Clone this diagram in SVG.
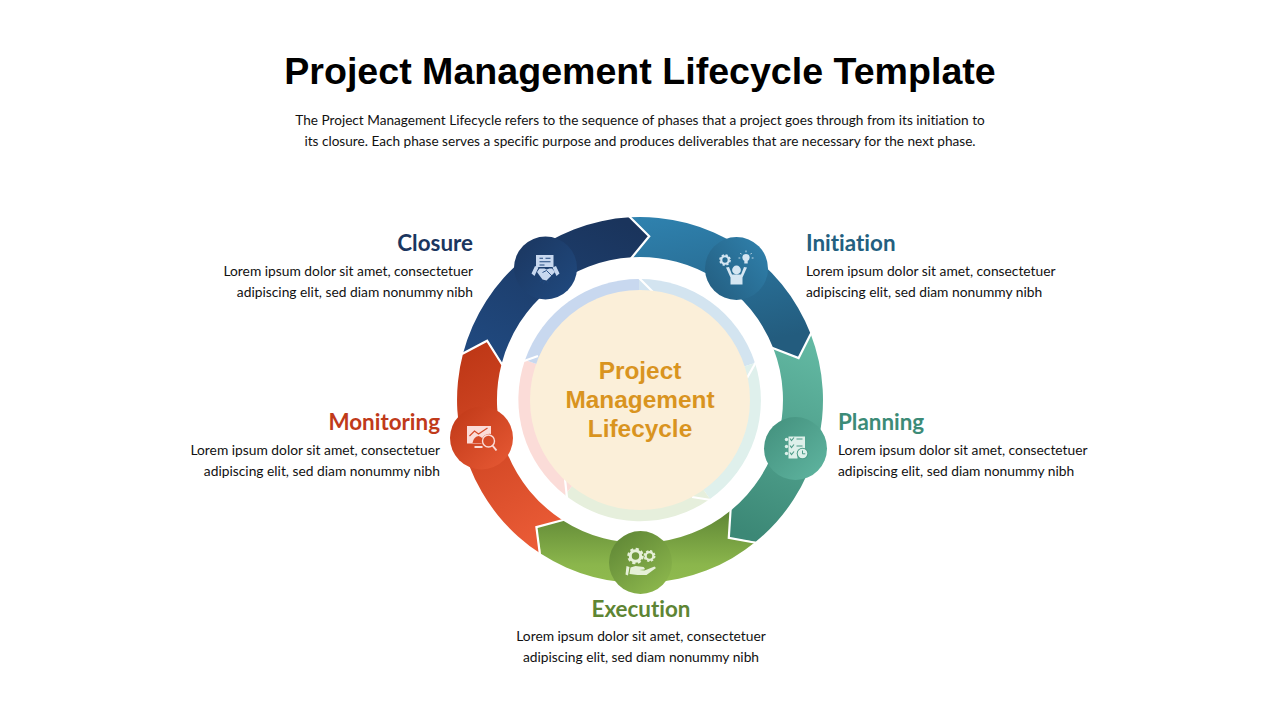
<svg xmlns="http://www.w3.org/2000/svg" width="1280" height="720" viewBox="0 0 1280 720">
<style>
.title{font:bold 37.6px "Liberation Sans",Arial,sans-serif;fill:#000;text-anchor:middle}
.sub{font:13.62px Lato,"Open Sans",sans-serif;fill:#111;text-anchor:middle;font-variant-ligatures:none}
.h{font:bold 22.4px Lato,"Open Sans",sans-serif;font-variant-ligatures:none}
.b{font:13.8px Lato,"Open Sans",sans-serif;fill:#111;font-variant-ligatures:none}
.c{font:bold 24.4px "Liberation Sans",Arial,sans-serif;fill:#D9941F;text-anchor:middle}
.e{text-anchor:end}.m{text-anchor:middle}
.gap{fill:none;stroke:#fff;stroke-width:2.2;stroke-linejoin:miter}
.sep{fill:none;stroke:#fff;stroke-width:2.2}
</style>
<defs>
<linearGradient id="gI" x1="0" y1="0" x2="0.25" y2="1"><stop offset="0" stop-color="#2F82AF"/><stop offset="1" stop-color="#235C7E"/></linearGradient>
<linearGradient id="gP" x1="0.6" y1="0" x2="0.4" y2="1"><stop offset="0" stop-color="#62B8A2"/><stop offset="1" stop-color="#3C8876"/></linearGradient>
<linearGradient id="gE" x1="0" y1="0" x2="0" y2="1"><stop offset="0" stop-color="#5F8635"/><stop offset="0.75" stop-color="#8BB64C"/><stop offset="1" stop-color="#8FBA4E"/></linearGradient>
<linearGradient id="gM" x1="0.3" y1="0" x2="0.6" y2="1"><stop offset="0" stop-color="#BF3817"/><stop offset="1" stop-color="#EA5B36"/></linearGradient>
<linearGradient id="gC" x1="0.8" y1="0" x2="0.2" y2="1"><stop offset="0" stop-color="#1A345C"/><stop offset="1" stop-color="#20497F"/></linearGradient>
<linearGradient id="cI" x1="0" y1="1" x2="1" y2="0.2"><stop offset="0" stop-color="#235C7E"/><stop offset="1" stop-color="#2F7FAA"/></linearGradient>
<linearGradient id="cP" x1="0" y1="0" x2="1" y2="1"><stop offset="0" stop-color="#428F7C"/><stop offset="1" stop-color="#60B6A1"/></linearGradient>
<linearGradient id="cE" x1="0.1" y1="0" x2="0.8" y2="1"><stop offset="0" stop-color="#5E8535"/><stop offset="1" stop-color="#8DB84D"/></linearGradient>
<linearGradient id="cM" x1="0" y1="0" x2="1" y2="1"><stop offset="0" stop-color="#BF3817"/><stop offset="1" stop-color="#E85A35"/></linearGradient>
<linearGradient id="cC" x1="0" y1="0" x2="1" y2="1"><stop offset="0" stop-color="#1B365F"/><stop offset="1" stop-color="#204A80"/></linearGradient>
<g id="gear"><circle r="0.85" fill="none" stroke="currentColor" stroke-width="0.5"/><circle r="1.16" fill="none" stroke="currentColor" stroke-width="0.34" stroke-dasharray="0.52 0.39"/></g>
</defs>

<text class="title" x="640" y="84">Project Management Lifecycle Template</text>
<text class="sub" x="640" y="125">The Project Management Lifecycle refers to the sequence of phases that a project goes through from its initiation to</text>
<text class="sub" x="640" y="146">its closure. Each phase serves a specific purpose and produces deliverables that are necessary for the next phase.</text>

<g id="hub">
<path fill="#D3E4F0" d="M640 400L639 279A121 121 0 0 1 755 363Z"/>
<path fill="#DFF0EC" d="M640 400L755 363A121 121 0 0 1 710 499Z"/>
<path fill="#E6EFDC" d="M640 400L710 499A121 121 0 0 1 565 495Z"/>
<path fill="#FBDCD8" d="M640 400L565 495A121 121 0 0 1 525 360Z"/>
<path fill="#C8D8EF" d="M640 400L525 360A121 121 0 0 1 639 279Z"/>
<path class="sep" d="M639 278L653 292M756 362L747 378M692 497L711 500M565 479L567 498M524 361L538 356"/>
<circle cx="640" cy="400" r="110" fill="#FBEFD9"/>
<text class="c" x="640" y="379">Project</text>
<text class="c" x="640" y="408">Management</text>
<text class="c" x="640" y="437">Lifecycle</text>
</g>

<g id="connectors">
<path fill="url(#gM)" d="M540.9 553.8A183 183 0 0 1 463.1 353.3L487.1 340.7L501.7 363.5A143 143 0 0 0 562.5 520.2L536.4 527.1Z"/>
<path fill="url(#gC)" d="M463.1 353.3A183 183 0 0 1 629.8 217.3L649.2 236.3L632 257.2A143 143 0 0 0 501.7 363.5L487.1 340.7Z"/>
<path fill="url(#gI)" d="M629.8 217.3A183 183 0 0 1 810.6 333.8L798.6 358.1L773.3 348.3A143 143 0 0 0 632 257.2L649.2 236.3Z"/>
<path fill="url(#gP)" d="M810.6 333.8A183 183 0 0 1 755.7 541.8L728.8 537.9L730.4 510.8A143 143 0 0 0 773.3 348.3L798.6 358.1Z"/>
<path fill="url(#gE)" d="M755.7 541.8A183 183 0 0 1 540.9 553.8L536.4 527.1L562.5 520.2A143 143 0 0 0 730.4 510.8L728.8 537.9Z"/>
<path class="gap" d="M628.8 216L649.2 236.3L631 258.5M811.5 332.5L798.6 358.1L772 347.8M757 543L728.8 537.9L730.6 509.5M540 555L536.4 527.1L564 519.8M462 354L487.1 340.7L502.4 365"/>
</g>

<g id="node-closure">
<circle cx="545.5" cy="268" r="31.5" fill="url(#cC)"/>
<g transform="translate(545.5 268)" fill="#C8D8EF">
<path d="M-9.5-13H8V-1H-9.5Z"/>
<path d="M-6-9.8H-2.5M0-9.8H5M-6-6.2H5M-6-3H-1" stroke="#20497F" stroke-width="1.1" fill="none"/>
<path d="M-14 5.5L-10.5-2L-7-0.5L-11 8ZM14 5.5L10.5-2L7-0.5L11 8Z"/>
<path d="M-8.5 4L-6 0.5H-1L1 1.5L4 0.5H6.5L9.5 4L4 9.5L1 12.5L-3 11.5L-6 7.5Z"/>
<path d="M-3 4.5L1 2.5L6.5 8M-4 12L-5.5 14M-1 13L-2 15.5M2 13L2.5 15.5" stroke="#20497F" stroke-width="0.9" fill="none"/>
</g>
</g>

<g id="node-initiation">
<circle cx="736.5" cy="268.5" r="31.5" fill="url(#cI)"/>
<g transform="translate(736.5 268.5)" fill="#D5E6F2" color="#D5E6F2">
<use href="#gear" transform="translate(-11.5 -8.5) scale(4.4)"/>
<circle cx="9.5" cy="-11" r="3.6"/><path d="M7.8-8.5H11.2V-5H7.8Z"/>
<path d="M9.5-18V-16.2M3.8-15.5L5-14.2M15.2-15.5L14-14.2M2-10.5H3.8M15.2-10.5H17" stroke="#D5E6F2" stroke-width="0.9"/>
<circle cx="0" cy="1.5" r="4.4"/>
<path d="M-10.5-1L-7.5-1.5L-4.5 6H4.5L7.5-1.5L10.5-1L6 9V16H-6V9Z"/>
</g>
</g>

<g id="node-planning">
<circle cx="795.5" cy="448.5" r="31.5" fill="url(#cP)"/>
<g transform="translate(795.5 448.5)" fill="#DDF0EA">
<path d="M-7-12H9.5V3H2V10H-7Z"/>
<circle cx="-9" cy="-9" r="1.7"/><circle cx="-9" cy="-2" r="1.7"/><circle cx="-9" cy="5" r="1.7"/>
<path d="M-5.5-10L-4-8L-1.5-11M1-9.5H7M-5.5-3L-4-1L-1.5-4M1-2.5H7M-5.5 4L-4 6L-1.5 3" stroke="#4A9A86" stroke-width="1.1" fill="none"/>
<circle cx="7" cy="5" r="5.8" fill="#4A9A86"/><circle cx="7" cy="5" r="4.8"/>
<path d="M7 2V5.3H9.8" stroke="#4A9A86" stroke-width="1" fill="none"/>
</g>
</g>

<g id="node-execution">
<circle cx="640.5" cy="562.5" r="31.5" fill="url(#cE)"/>
<g transform="translate(640.5 562.5)" fill="#E6F0D8" color="#E6F0D8">
<use href="#gear" transform="translate(-5 -6.5) scale(6.2)"/>
<use href="#gear" transform="translate(9 -6.5) scale(4.5)"/>
<path d="M-14 3.5L-11 4.5L-12.5 13L-15 12Z"/>
<path d="M-10 5L-5 3.5L3 4.5Q5 5.5 4 7L-1 7.5L4 8L14 4L15.5 5.5L6 12.5L-3 12.5L-11 11.5Z"/>
</g>
</g>

<g id="node-monitoring">
<circle cx="481.5" cy="438" r="31.5" fill="url(#cM)"/>
<g transform="translate(481.5 438)" fill="#FBDCD8">
<path d="M-14.5-12H9.5V-4A8 8 0 0 0 0 5.5H-14.5Z"/>
<path d="M-12 -2L-7-7L-3-4L6-10" stroke="#D64A28" stroke-width="1.2" fill="none"/>
<path d="M-9 5Q-8-1-3-2Q1-1 2 3L0 5Z" fill="#D64A28"/>
<path d="M-7 8H1V10H-7Z"/>
<circle cx="7" cy="3" r="6" fill="none" stroke="#FBDCD8" stroke-width="1.4"/>
<path d="M11 7.5L15 12.5" stroke="#FBDCD8" stroke-width="2"/>
</g>
</g>

<g id="label-initiation">
<text class="h" x="806" y="251" fill="#235F80">Initiation</text>
<text class="b" x="806" y="276">Lorem ipsum dolor sit amet, consectetuer</text>
<text class="b" x="806" y="297">adipiscing elit, sed diam nonummy nibh</text>
</g>
<g id="label-planning">
<text class="h" x="838" y="430" fill="#3C8B77">Planning</text>
<text class="b" x="838" y="455">Lorem ipsum dolor sit amet, consectetuer</text>
<text class="b" x="838" y="476">adipiscing elit, sed diam nonummy nibh</text>
</g>
<g id="label-execution">
<text class="h m" x="641" y="617" fill="#5E8534">Execution</text>
<text class="b m" x="641" y="641">Lorem ipsum dolor sit amet, consectetuer</text>
<text class="b m" x="641" y="662">adipiscing elit, sed diam nonummy nibh</text>
</g>
<g id="label-monitoring">
<text class="h e" x="440" y="430" fill="#C03A1A">Monitoring</text>
<text class="b e" x="440" y="455">Lorem ipsum dolor sit amet, consectetuer</text>
<text class="b e" x="440" y="476">adipiscing elit, sed diam nonummy nibh</text>
</g>
<g id="label-closure">
<text class="h e" x="473" y="251" fill="#1B365F">Closure</text>
<text class="b e" x="473" y="276">Lorem ipsum dolor sit amet, consectetuer</text>
<text class="b e" x="473" y="297">adipiscing elit, sed diam nonummy nibh</text>
</g>
</svg>
